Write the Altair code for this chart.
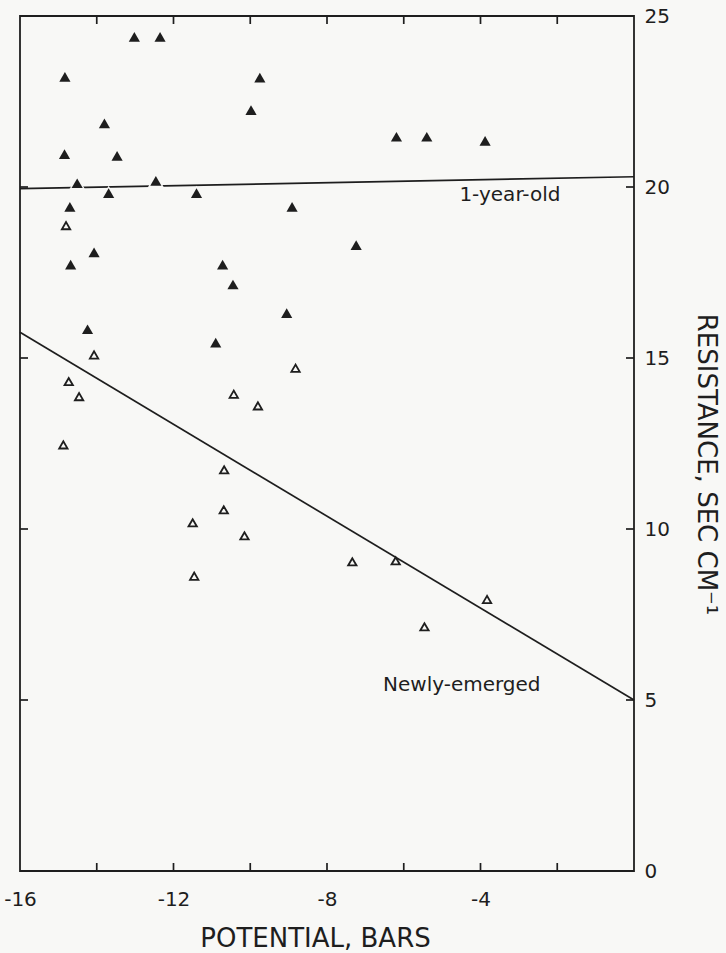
import altair as alt
import pandas as pd

# Leaf resistance vs. water potential for two needle age classes
one_year_potential = [-13.02, -12.35, -14.83, -9.75, -9.98, -13.80, -6.19, -5.40, -3.88,
                      -14.84, -13.47, -14.51, -12.46, -13.69, -11.40, -14.70, -8.91, -7.24,
                      -14.07, -14.68, -10.72, -10.45, -9.05, -14.24, -10.90]
one_year_resistance = [24.39, 24.39, 23.22, 23.20, 22.25, 21.86, 21.47, 21.47, 21.35,
                       20.96, 20.91, 20.11, 20.18, 19.82, 19.82, 19.42, 19.42, 18.30,
                       18.09, 17.73, 17.73, 17.15, 16.31, 15.84, 15.45]

newly_potential = [-14.80, -14.07, -8.82, -14.73, -14.46, -10.43, -9.80, -14.87, -10.68,
                   -10.69, -11.50, -10.15, -7.34, -6.21, -11.46, -3.83, -5.46]
newly_resistance = [18.87, 15.09, 14.70, 14.31, 13.87, 13.94, 13.60, 12.46, 11.73,
                    10.56, 10.18, 9.80, 9.04, 9.07, 8.62, 7.94, 7.14]

# Fitted regression lines (end points at the frame edges)
fit_potential = [-16, 0]
one_year_fit = [19.95, 20.30]
newly_fit = [15.75, 5.00]

# Axis ticks and labels
x_minor_ticks = [-14, -12, -10, -8, -6, -4, -2]
x_labels = [-16, -12, -8, -4]
y_side_ticks = [5, 10, 15, 20]
y_labels = [0, 5, 10, 15, 20, 25]

# Curve labels
curve_names = ["1-year-old", "Newly-emerged"]
curve_label_x = [-4.55, -6.54]
curve_label_y = [19.77, 5.44]

W, H = 614, 855
INK = "#1e1e1e"
BG = "#f8f8f6"
FONT = "DejaVu Sans"

x_scale = alt.Scale(domain=[-16, 0], nice=False, zero=False)
y_scale = alt.Scale(domain=[0, 25], nice=False, zero=False)

one_year = pd.DataFrame({"potential": one_year_potential, "resistance": one_year_resistance})
newly = pd.DataFrame({"potential": newly_potential, "resistance": newly_resistance})
fits = pd.DataFrame({
    "potential": fit_potential * 2,
    "resistance": one_year_fit + newly_fit,
    "group": ["one"] * 2 + ["newly"] * 2,
})
labels = pd.DataFrame({"name": curve_names, "potential": curve_label_x, "resistance": curve_label_y})

x_axis = alt.Axis(
    values=x_labels, ticks=False, domain=False, grid=False,
    labelExpr="'' + datum.value", labelFlush=False, labelPadding=18,
    labelFontSize=20, labelColor=INK, labelFont=FONT,
    title="POTENTIAL, BARS", titleFontSize=26, titleFont=FONT, titleFontWeight="normal",
    titleColor=INK, titleX=295, titleY=67, titleBaseline="middle", titleAlign="center",
)
y_axis = alt.Axis(
    orient="right", values=y_labels, ticks=False, domain=False, grid=False,
    labelPadding=10, labelFontSize=20, labelColor=INK, labelFont=FONT,
    title="RESISTANCE, SEC CM\u207b\u00b9", titleFontSize=26, titleFont=FONT,
    titleFontWeight="normal", titleColor=INK, titleAngle=90, titleX=71, titleY=448,
    titleBaseline="middle", titleAlign="center",
)

base_x = alt.X("potential:Q", scale=x_scale, axis=x_axis)
base_y = alt.Y("resistance:Q", scale=y_scale, axis=y_axis)

fit_lines = alt.Chart(fits).mark_line(color=INK, strokeWidth=1.7).encode(
    x=base_x, y=base_y, detail="group:N"
)

halo = alt.Chart(one_year).mark_point(
    shape="triangle-up", filled=True, color=BG, size=290, opacity=1
).encode(x="potential:Q", y="resistance:Q")

filled_pts = alt.Chart(one_year).mark_point(
    shape="triangle-up", filled=True, color=INK, size=125, opacity=1
).encode(x="potential:Q", y="resistance:Q")

open_pts = alt.Chart(newly).mark_point(
    shape="triangle-up", filled=False, color=INK, size=70, strokeWidth=1.8, opacity=1
).encode(x="potential:Q", y="resistance:Q")

name_text = alt.Chart(labels).mark_text(
    align="left", baseline="middle", fontSize=20, font=FONT, color=INK
).encode(x="potential:Q", y="resistance:Q", text="name:N")

# Inward-pointing ticks on all four sides of the frame
tick_style = dict(color=INK, strokeWidth=1.7)
bottom_ticks = alt.Chart(pd.DataFrame({"potential": x_minor_ticks})).mark_rule(**tick_style).encode(
    x="potential:Q", y=alt.value(H), y2=alt.value(H - 8)
)
top_ticks = alt.Chart(pd.DataFrame({"potential": x_minor_ticks})).mark_rule(**tick_style).encode(
    x="potential:Q", y=alt.value(0), y2=alt.value(8)
)
left_ticks = alt.Chart(pd.DataFrame({"resistance": y_side_ticks})).mark_rule(**tick_style).encode(
    y="resistance:Q", x=alt.value(0), x2=alt.value(8)
)
right_ticks = alt.Chart(pd.DataFrame({"resistance": y_side_ticks})).mark_rule(**tick_style).encode(
    y="resistance:Q", x=alt.value(W), x2=alt.value(W - 8)
)

chart = alt.layer(
    fit_lines, halo, filled_pts, open_pts, name_text,
    bottom_ticks, top_ticks, left_ticks, right_ticks,
).properties(
    width=W, height=H,
    padding={"left": 20, "top": 16, "right": 92, "bottom": 82},
    autosize=alt.AutoSizeParams(type="none"),
    background=BG,
).configure_view(
    stroke=INK, strokeWidth=1.8, fill=BG
)

chart.save("out.html", embed_options={"renderer": "svg", "actions": False})
